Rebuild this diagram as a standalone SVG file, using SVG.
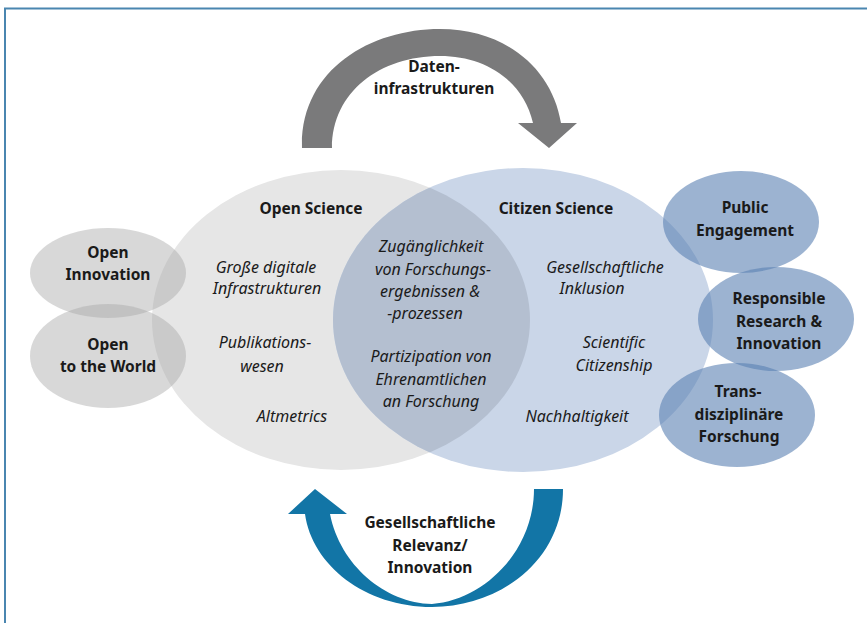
<svg xmlns="http://www.w3.org/2000/svg" width="867" height="623" viewBox="0 0 867 623">
<defs>
<style>
text{font-family:"Noto Sans",Roboto,"Liberation Sans",sans-serif;fill:#1a1a1a;text-anchor:middle;font-size:15.5px}
.b{font-weight:bold}
.i{font-style:italic;font-size:16px}
.sm{fill:#a8a8a8;fill-opacity:0.45}
.bl{fill:#5a80b3;fill-opacity:0.6}
</style>
<clipPath id="csClip"><ellipse cx="523" cy="320" rx="190" ry="152"/></clipPath>
</defs>
<rect width="867" height="623" fill="#ffffff"/>
<path d="M5,623 V8.5 H867" fill="none" stroke="#4a86b0" stroke-width="2"/>

<g id="open-science">
<ellipse cx="341" cy="320" rx="189" ry="150" fill="#e6e6e6"/>
</g>
<g id="citizen-science">
<ellipse cx="523" cy="320" rx="190" ry="152" fill="#cad6e8"/>
<ellipse cx="341" cy="320" rx="189" ry="150" fill="#b4bfd0" clip-path="url(#csClip)"/>
</g>

<g id="open-innovation"><ellipse class="sm" cx="108" cy="273" rx="78" ry="45"/>
<text class="b" x="108" y="258">Open</text><text class="b" x="108" y="280">Innovation</text></g>
<g id="open-world"><ellipse class="sm" cx="108" cy="356" rx="78" ry="52"/>
<text class="b" x="108" y="350">Open</text><text class="b" x="108" y="372">to the World</text></g>

<g id="public-engagement"><ellipse class="bl" cx="741" cy="222" rx="78" ry="51"/>
<text class="b" x="745" y="213">Public</text><text class="b" x="745" y="236">Engagement</text></g>
<g id="rri"><ellipse class="bl" cx="776" cy="319" rx="78" ry="52"/>
<text class="b" x="779" y="304">Responsible</text><text class="b" x="779" y="327">Research &amp;</text><text class="b" x="779" y="349">Innovation</text></g>
<g id="trans"><ellipse class="bl" cx="737" cy="415" rx="78" ry="52"/>
<text class="b" x="738" y="397">Trans-</text><text class="b" x="739" y="420">disziplinäre</text><text class="b" x="739" y="442">Forschung</text></g>

<g id="labels">
<text class="b" x="311" y="214">Open Science</text>
<text class="b" x="556" y="214">Citizen Science</text>
<text class="i" x="266" y="273">Große digitale</text>
<text class="i" x="267" y="294">Infrastrukturen</text>
<text class="i" x="265" y="348">Publikations-</text>
<text class="i" x="262" y="372">wesen</text>
<text class="i" x="292" y="422">Altmetrics</text>
<text class="i" x="431" y="252">Zugänglichkeit</text>
<text class="i" x="433" y="275">von Forschungs-</text>
<text class="i" x="430" y="297">ergebnissen &amp;</text>
<text class="i" x="425" y="319">-prozessen</text>
<text class="i" x="431" y="362">Partizipation von</text>
<text class="i" x="431" y="385">Ehrenamtlichen</text>
<text class="i" x="431" y="407">an Forschung</text>
<text class="i" x="605" y="273">Gesellschaftliche</text>
<text class="i" x="592" y="294">Inklusion</text>
<text class="i" x="614" y="348">Scientific</text>
<text class="i" x="614" y="371">Citizenship</text>
<text class="i" x="577" y="422">Nachhaltigkeit</text>
</g>

<g id="connectors">
<path d="M302,148 C300,70 370,29 440,29 C505,29 552,68 561,123 L577,123 L549,148 L518,123 L533,123 C523,80 485,56 440,56 C380,56 332,92 332,148 Z" fill="#7a7a7b"/>
<path d="M534,489 L563,489 C563,560 500,607 432,607 C365,607 312,565 305,514 L288,514 L315,489 L347,514 L330,514 C340,565 385,603 432,604 C485,600 534,550 534,489 Z" fill="#1275a6"/>
</g>
<g id="arrow-labels">
<text class="b" x="434" y="72">Daten-</text>
<text class="b" x="434" y="94">infrastrukturen</text>
<text class="b" x="430" y="528">Gesellschaftliche</text>
<text class="b" x="430" y="551">Relevanz/</text>
<text class="b" x="430" y="573">Innovation</text>
</g>
</svg>
